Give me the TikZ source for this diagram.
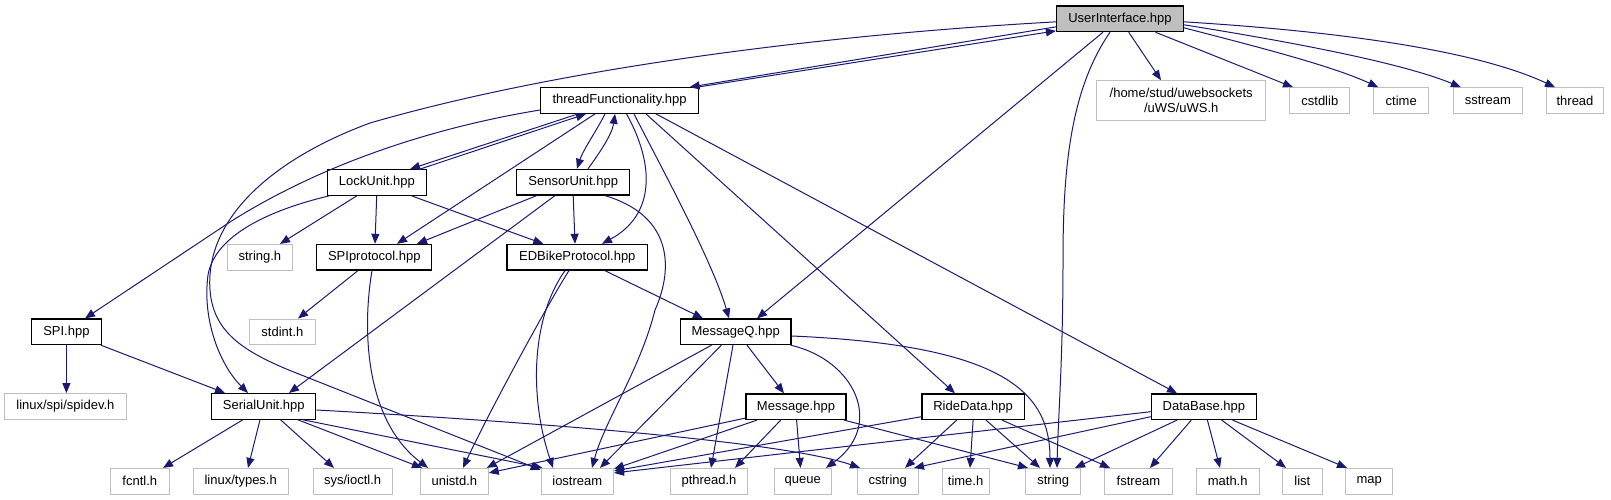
\documentclass[tikz,border=0pt]{standalone}
\usepackage{fontspec}
\setmainfont{Liberation Sans}
\usetikzlibrary{arrows.meta}
\definecolor{edgeblue}{HTML}{191970}
\definecolor{extgray}{HTML}{BFBFBF}
\tikzset{
  nd/.style={draw=black, line width=1.2pt, fill=white, inner sep=0pt, minimum height=25.6pt,
    font=\fontsize{13}{15}\selectfont, text=black},
  ext/.style={nd, draw=extgray, line width=1pt},
  e/.style={draw=edgeblue, line width=1pt, -{Triangle[length=10pt,width=8pt]}}
}
\begin{document}
\begin{tikzpicture}[x=1pt,y=-1pt]
\useasboundingbox (0,0) rectangle (1611,500);
% nodes
\node[nd, fill=extgray, minimum width=127pt] (ui) at (1120,18.85) {UserInterface.hpp};
\node[nd, minimum width=158pt] (tf) at (619.6,100.5) {threadFunctionality.hpp};
\node[ext, minimum width=168.5pt, minimum height=40pt, align=center] (uws) at (1181.2,100.7) {/home/stud/uwebsockets\\/uWS/uWS.h};
\node[ext, minimum width=60pt] (cstdlib) at (1319.8,100.5) {cstdlib};
\node[ext, minimum width=54.7pt] (ctime) at (1401.2,100.5) {ctime};
\node[ext, minimum width=69.4pt] (sstream) at (1487.9,100.5) {sstream};
\node[ext, minimum width=57pt] (thread) at (1575,100.5) {thread};
\node[nd, minimum width=98.8pt] (lock) at (376.9,182.5) {LockUnit.hpp};
\node[nd, minimum width=113pt] (sensor) at (573.2,182.2) {SensorUnit.hpp};
\node[ext, minimum width=65.7pt] (stringh) at (259.9,257.2) {string.h};
\node[nd, minimum width=115pt] (spiprot) at (374.3,257.2) {SPIprotocol.hpp};
\node[nd, minimum width=140.5pt] (edb) at (577.3,257.2) {EDBikeProtocol.hpp};
\node[nd, minimum width=69.8pt] (spi) at (66.4,331.8) {SPI.hpp};
\node[ext, minimum width=65.3pt] (stdint) at (282.4,331.8) {stdint.h};
\node[nd, minimum width=110.7pt] (mq) at (735.7,331.8) {MessageQ.hpp};
\node[ext, minimum width=121.3pt] (spidev) at (65.4,406.4) {linux/spi/spidev.h};
\node[nd, minimum width=104pt] (serial) at (263.8,406.4) {SerialUnit.hpp};
\node[nd, minimum width=100pt] (msg) at (796,406.7) {Message.hpp};
\node[nd, minimum width=102.4pt] (ride) at (973.1,406.7) {RideData.hpp};
\node[nd, minimum width=105.1pt] (db) at (1203.9,406.7) {DataBase.hpp};
\node[ext, minimum width=58.5pt] (fcntl) at (139.8,481.2) {fcntl.h};
\node[ext, minimum width=95pt] (ltypes) at (240.7,481.2) {linux/types.h};
\node[ext, minimum width=79.2pt] (ioctl) at (352.6,481.2) {sys/ioctl.h};
\node[ext, minimum width=67.8pt] (unistd) at (454.4,481.2) {unistd.h};
\node[ext, minimum width=72.5pt] (iostream) at (577.3,481.2) {iostream};
\node[ext, minimum width=76.3pt] (pthread) at (709,481.2) {pthread.h};
\node[ext, minimum width=57.4pt] (queue) at (802.7,481.2) {queue};
\node[ext, minimum width=61.4pt] (cstring) at (887.7,481.2) {cstring};
\node[ext, minimum width=47.1pt] (timeh) at (965.6,481.2) {time.h};
\node[ext, minimum width=54.6pt] (string) at (1053.2,481.2) {string};
\node[ext, minimum width=67.3pt] (fstream) at (1138.4,481.2) {fstream};
\node[ext, minimum width=62.7pt] (mathh) at (1227.7,481.2) {math.h};
\node[ext, minimum width=39.2pt] (list) at (1302.4,481.2) {list};
\node[ext, minimum width=47pt] (map) at (1369.2,481.2) {map};
% UserInterface edges
\draw[e] ([yshift=-8pt]ui.west) -- ([xshift=70pt]tf.north);
\draw[e] ([xshift=78pt]tf.north) -- ([yshift=-12pt]ui.west);
\draw[e] ([yshift=-3pt]ui.west) .. controls (820,35) and (560,68) .. (370,123) .. controls (270,160) and (205,220) .. (210,290) .. controls (213,330) and (240,350) .. (290,370.5) -- ([yshift=-2pt]iostream.north west);
\draw[e] ([xshift=-17pt]ui.south) -- ([xshift=21.3pt]mq.north);
\draw[e] ([xshift=-10pt]ui.south) .. controls (1070,90) and (1063,170) .. (1063,260) .. controls (1063,360) and (1058,420) .. ([xshift=3.8pt]string.north);
\draw[e] ([xshift=8.7pt]ui.south) -- ([xshift=-20.2pt]uws.north);
\draw[e] ([xshift=35.5pt]ui.south) -- ([xshift=-26.8pt]cstdlib.north);
\draw[e] ([yshift=-9pt]ui.east) .. controls (1250,45) and (1330,65) .. ([xshift=-23pt]ctime.north);
\draw[e] ([yshift=-6pt]ui.east) .. controls (1280,40) and (1400,62) .. ([xshift=-27pt]sstream.north);
\draw[e] ([yshift=-3pt]ui.east) .. controls (1350,32) and (1480,52) .. ([xshift=-20pt]thread.north);
% threadFunctionality edges
\draw[e] ([xshift=-41.6pt]tf.south) -- ([xshift=33.1pt]lock.north);
\draw[e] ([xshift=43.1pt]lock.north) -- ([xshift=-33.6pt]tf.south);
\draw[e] ([xshift=-14.6pt]tf.south) .. controls (597,130) and (583,150) .. ([xshift=3.8pt]sensor.north);
\draw[e] ([xshift=14.8pt]sensor.north) .. controls (598,155) and (612,135) .. ([xshift=-4.6pt]tf.south);
\draw[e] ([xshift=-24.6pt]tf.south) -- ([xshift=22.7pt]spiprot.north);
\draw[e] ([yshift=-9.5pt]tf.west) .. controls (430,128) and (320,165) .. (230,222) -- ([xshift=18.6pt]spi.north);
\draw[e] ([xshift=6.9pt]tf.south) .. controls (655,165) and (655,215) .. ([xshift=24.7pt]edb.north);
\draw[e] ([xshift=14.4pt]tf.south) .. controls (660,165) and (712,260) .. ([xshift=-6.7pt]mq.north);
\draw[e] ([xshift=26.4pt]tf.south) -- ([xshift=-18.1pt]ride.north);
\draw[e] ([xshift=36.4pt]tf.south) -- ([xshift=-26.9pt]db.north);
% LockUnit edges
\draw[e] ([xshift=-20.2pt]lock.south) -- ([xshift=20.1pt]stringh.north);
\draw[e] ([xshift=-0.2pt]lock.south) -- ([xshift=0.7pt]spiprot.north);
\draw[e] ([xshift=34.8pt]lock.south) -- ([xshift=-34pt]edb.north);
\draw[e] ([xshift=2pt]lock.south west) .. controls (270,210) and (215,235) .. (208,275) .. controls (202,320) and (220,365) .. ([xshift=-15.8pt]serial.north);
% SensorUnit edges
\draw[e] ([xshift=-36.5pt]sensor.south) -- ([xshift=42.7pt]spiprot.north);
\draw[e] (sensor.south) -- ([xshift=-2.3pt]edb.north);
\draw[e] ([xshift=-18.2pt]sensor.south) -- ([xshift=25.2pt]serial.north);
\draw[e] ([xshift=31.8pt]sensor.south) .. controls (670,215) and (675,265) .. (655,310) .. controls (640,370) and (605,420) .. ([xshift=14.7pt]iostream.north);
% EDBikeProtocol edges
\draw[e] ([xshift=27.5pt]edb.south) -- ([xshift=-32.7pt]mq.north);
\draw[e] ([xshift=-8.3pt]edb.south) .. controls (550,300) and (490,410) .. ([xshift=8.6pt]unistd.north);
\draw[e] ([xshift=-12.3pt]edb.south) .. controls (530,320) and (530,400) .. ([xshift=-24.3pt]iostream.north);
% SPIprotocol edges
\draw[e] ([xshift=-16.3pt]spiprot.south) -- ([xshift=15.6pt]stdint.north);
\draw[e] ([xshift=-2.3pt]spiprot.south) .. controls (362,330) and (365,420) .. ([xshift=-26.4pt]unistd.north);
% SPI edges
\draw[e] (spi.south) -- (spi.south |- spidev.north);
\draw[e] ([xshift=-1pt]spi.south east) -- ([xshift=-38.8pt]serial.north);
% SerialUnit edges
\draw[e] ([xshift=-21pt]serial.south) -- ([xshift=23.2pt]fcntl.north);
\draw[e] ([xshift=-3.8pt]serial.south) -- ([xshift=7.3pt]ltypes.north);
\draw[e] ([xshift=16.8pt]serial.south) -- ([xshift=-18.6pt]ioctl.north);
\draw[e] ([xshift=34.1pt]serial.south) -- ([xshift=-32.4pt]unistd.north);
\draw[e] ([xshift=39.2pt]serial.south) -- ([xshift=2pt]iostream.north west);
\draw[e] ([yshift=-3.6pt]serial.east) .. controls (500,420) and (780,440) .. ([xshift=-27.7pt]cstring.north);
% MessageQ edges
\draw[e] ([xshift=11.3pt]mq.south) -- ([xshift=-12pt]msg.north);
\draw[e] ([xshift=-24.2pt]mq.south) -- ([xshift=-2pt]unistd.north east);
\draw[e] ([xshift=-14.3pt]mq.south) -- ([xshift=22.7pt]iostream.north);
\draw[e] ([xshift=-2.7pt]mq.south) -- ([xshift=2pt]pthread.north);
\draw[e] ([xshift=-1pt]mq.south east) .. controls (855,360) and (885,425) .. ([xshift=23.3pt]queue.north);
\draw[e] ([yshift=-4.2pt]mq.east) .. controls (1000,345) and (1050,390) .. ([xshift=-3.2pt]string.north);
% Message edges
\draw[e] ([yshift=2pt]msg.south west) -- ([yshift=-5pt]unistd.north east);
\draw[e] ([xshift=-39pt]msg.south) -- ([yshift=-1pt]iostream.north east);
\draw[e] ([xshift=-15.3pt]msg.south) -- ([xshift=26pt]pthread.north);
\draw[e] ([xshift=0.6pt]msg.south) -- ([xshift=-2.2pt]queue.north);
\draw[e] ([xshift=48pt]msg.south) -- ([xshift=-25.2pt]string.north);
% RideData edges
\draw[e] ([yshift=-10pt]ride.west) -- ([yshift=-3pt]iostream.north east);
\draw[e] ([xshift=-16.4pt]ride.south) -- ([xshift=17.3pt]cstring.north);
\draw[e] (ride.south) -- ([xshift=4.4pt]timeh.north);
\draw[e] ([xshift=12.9pt]ride.south) -- ([xshift=-13.2pt]string.north);
\draw[e] ([xshift=28.9pt]ride.south) -- ([xshift=-28.4pt]fstream.north);
% DataBase edges
\draw[e] ([yshift=-5pt]db.west) -- ([yshift=-5pt]iostream.north east);
\draw[e] ([yshift=-10pt]db.west) -- ([xshift=26.3pt]cstring.north);
\draw[e] ([xshift=-26.9pt]db.south) -- ([xshift=21.8pt]string.north);
\draw[e] ([xshift=-12.6pt]db.south) -- ([xshift=11.6pt]fstream.north);
\draw[e] ([xshift=3.5pt]db.south) -- ([xshift=-7.7pt]mathh.north);
\draw[e] ([xshift=17.8pt]db.south) -- ([xshift=-16.4pt]list.north);
\draw[e] ([xshift=28.6pt]db.south) -- ([xshift=-22.2pt]map.north);
\end{tikzpicture}
\end{document}
